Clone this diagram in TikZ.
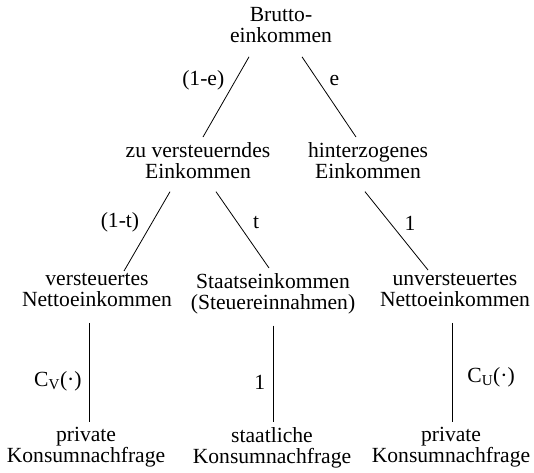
\documentclass[tikz,border=0pt]{standalone}
\usepackage{fontspec}
\setmainfont{Liberation Serif}
\usepackage{tikz}

\begin{document}
\begin{tikzpicture}[x=1pt,y=-1pt,
  txt/.style={align=center,anchor=north,inner sep=0pt,font=\fontsize{21.6}{21}\selectfont,
              execute at begin node=\strut,execute at end node=\strut},
  wt/.style={inner sep=0pt,font=\fontsize{21.6}{21}\selectfont},
  lnk/.style={line width=0.8pt}]

  \useasboundingbox (0,0) rectangle (534,472);

  \node[txt] (brutto)  at (281,7)   {Brutto-\\einkommen};
  \node[txt] (zu)      at (198,142) {zu versteuerndes\\Einkommen};
  \node[txt] (hinter)  at (368,142) {hinterzogenes\\Einkommen};

  \node[txt] (verst)   at (97,273)  {versteuertes\\Nettoeinkommen};
  \node[txt] (staat)   at (273,273) {Staatseinkommen\\(Steuereinnahmen)};
  \node[txt] (unverst) at (455,273) {unversteuertes\\Nettoeinkommen};

  \node[txt] (privv)   at (86,427)  {private\\Konsumnachfrage};
  \node[txt] (staatl)  at (272,427) {staatliche\\Konsumnachfrage};
  \node[txt] (privu)   at (451,427) {private\\Konsumnachfrage};

  % Aufteilung des Bruttoeinkommens
  \draw[lnk] ([xshift=-32pt,yshift=-8pt]brutto.south) -- node[wt,pos=0.29,left=11pt]{(1-e)} ([xshift=5pt,yshift=5pt]zu.north);
  \draw[lnk] ([xshift=21pt,yshift=-8pt]brutto.south) -- node[wt,pos=0.29,right=11.5pt]{e} ([xshift=-12pt,yshift=5pt]hinter.north);

  \draw[lnk] ([xshift=-28pt,yshift=-7pt]zu.south) -- node[wt,pos=0.39,left=12.5pt]{(1-t)} ([xshift=27pt,yshift=2pt]verst.north);
  \draw[lnk] ([xshift=18pt,yshift=-7pt]zu.south) -- node[wt,pos=0.4,right=15.5pt]{t} ([xshift=-4pt,yshift=5pt]staat.north);
  \draw[lnk] ([xshift=-3pt,yshift=-7pt]hinter.south) -- node[wt,pos=0.4,right=14pt]{1} ([xshift=-27pt,yshift=3pt]unverst.north);

  % Konsumnachfrage
  \draw[lnk] ([xshift=-8pt,yshift=-10pt]verst.south) -- node[wt,pos=0.59,left=7pt]{C\textsubscript{V}(·)} ([xshift=3pt,yshift=5pt]privv.north);
  \draw[lnk] ([yshift=-10pt]staat.south) -- node[wt,pos=0.59,left=7.5pt]{1} ([xshift=1pt,yshift=5pt]staatl.north);
  \draw[lnk] ([xshift=-3pt,yshift=-10pt]unverst.south) -- node[wt,pos=0.55,right=15pt]{C\textsubscript{U}(·)} ([xshift=1pt,yshift=5pt]privu.north);
\end{tikzpicture}
\end{document}
